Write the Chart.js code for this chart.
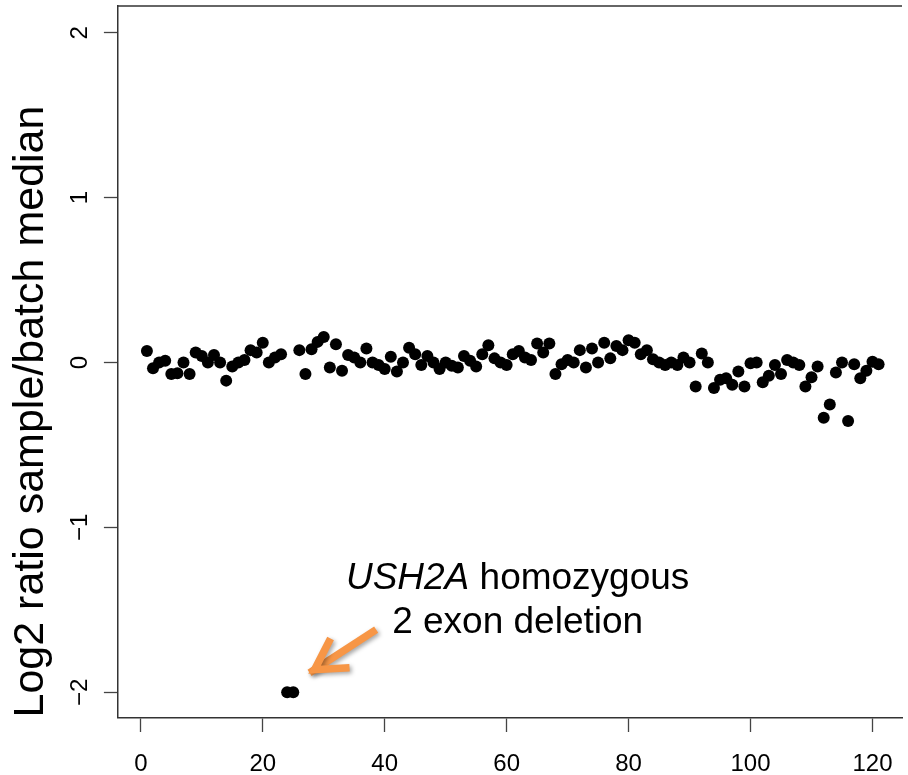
<!DOCTYPE html>
<html lang="en">
<head>
  <meta charset="UTF-8">
  <title>USH2A log2 ratio</title>
  <script src="https://cdn.jsdelivr.net/npm/chart.js@4.4.1/dist/chart.umd.min.js"></script>
  <style>
* {
  margin: 0;
  padding: 0;
}
body {
  background: #fff;
  overflow: hidden;
}
  </style>
</head>
<body>
  <canvas id="myChart" width="908" height="775"></canvas>
  <script>
    // log2 ratio for exons 1..121
    const ratios = [
      0.07, -0.035, 0.0, 0.01, -0.07, -0.065, 0.0, -0.07, 0.06, 0.04,
      0.0, 0.045, 0.0, -0.11, -0.025, 0.0, 0.015, 0.075, 0.06, 0.12,
      0.0, 0.03, 0.05, -2.0, -2.0, 0.075, -0.07, 0.08, 0.125, 0.155,
      -0.03, 0.11, -0.05, 0.045, 0.03, 0.0, 0.085, 0.0, -0.015, -0.04,
      0.035, -0.055, 0.0, 0.09, 0.05, -0.015, 0.04, 0.0, -0.04, 0.0,
      -0.02, -0.03, 0.04, 0.01, -0.025, 0.05, 0.105, 0.025, 0.0, -0.015,
      0.05, 0.07, 0.03, 0.015, 0.115, 0.06, 0.115, -0.07, -0.01, 0.015,
      0.0, 0.075, -0.03, 0.085, 0.0, 0.12, 0.025, 0.1, 0.075, 0.135,
      0.12, 0.05, 0.075, 0.02, 0.0, -0.015, 0.0, -0.015, 0.03, 0.0,
      -0.145, 0.055, 0.0, -0.155, -0.105, -0.095, -0.135, -0.055, -0.145, -0.005,
      0.0, -0.12, -0.08, -0.015, -0.07, 0.015, 0.0, -0.015, -0.145, -0.09,
      -0.025, -0.335, -0.255, -0.06, 0.0, -0.355, -0.01, -0.095, -0.05, 0.005,
      -0.01
    ];
    const xTicks = [0, 20, 40, 60, 80, 100, 120];
    const yTicks = [-2, -1, 0, 1, 2];
    const yTitle = 'Log2 ratio sample/batch median';
    const noteGene = 'USH2A';
    const noteLine1 = ' homozygous';
    const noteLine2 = '2 exon deletion';

    const points = ratios.map((v, i) => ({x: i + 1, y: v}));
    const FONT = '"Liberation Sans", Arial, Helvetica, sans-serif';
    const axisColor = '#333';

    // top frame line, rotated y labels, annotation + arrow
    const extras = {
      id: 'extras',
      afterDraw(chart) {
        const c = chart.ctx;
        const area = chart.chartArea;
        const xs = chart.scales.x;
        const ys = chart.scales.y;
        c.save();
        c.strokeStyle = axisColor;
        c.lineWidth = 1.5;
        c.beginPath();
        c.moveTo(area.left, area.top);
        c.lineTo(area.right, area.top);
        c.stroke();

        c.fillStyle = '#000';
        c.font = '24px ' + FONT;
        c.textAlign = 'center';
        c.textBaseline = 'alphabetic';
        yTicks.forEach(t => {
          c.save();
          c.translate(86.5, ys.getPixelForValue(t));
          c.rotate(-Math.PI / 2);
          c.fillText(String(t).replace('-', '\u2212'), 0, 0);
          c.restore();
        });

        // annotation text
        const cx = xs.getPixelForValue(61.8);
        c.textAlign = 'left';
        c.font = 'italic 37px ' + FONT;
        const w1 = c.measureText(noteGene).width;
        c.font = '37px ' + FONT;
        const w2 = c.measureText(noteLine1).width;
        const b1 = ys.getPixelForValue(-1.375);
        let sx = cx - (w1 + w2) / 2;
        c.font = 'italic 37px ' + FONT;
        c.fillText(noteGene, sx, b1);
        c.font = '37px ' + FONT;
        c.fillText(noteLine1, sx + w1, b1);
        c.textAlign = 'center';
        c.fillText(noteLine2, cx, ys.getPixelForValue(-1.641));

        // orange arrow
        const x0 = xs.getPixelForValue(38.6), y0 = ys.getPixelForValue(-1.62);
        const x1 = xs.getPixelForValue(28.5), y1 = ys.getPixelForValue(-1.863);
        c.shadowColor = 'rgba(0,0,0,0.35)';
        c.shadowBlur = 4;
        c.shadowOffsetX = 2;
        c.shadowOffsetY = 2;
        c.strokeStyle = '#F79646';
        c.lineWidth = 7.5;
        c.lineCap = 'butt';
        c.lineJoin = 'miter';
        const ang = Math.atan2(y1 - y0, x1 - x0);
        c.beginPath();
        c.moveTo(x0, y0);
        c.lineTo(x1 + 6 * Math.cos(ang), y1 + 6 * Math.sin(ang));
        c.stroke();
        const hl = 35, spread = 0.52;
        c.beginPath();
        c.moveTo(x1 - hl * Math.cos(ang - spread), y1 - hl * Math.sin(ang - spread));
        c.lineTo(x1, y1);
        c.lineTo(x1 - hl * Math.cos(ang + spread), y1 - hl * Math.sin(ang + spread));
        c.stroke();
        c.restore();
      }
    };

    const ctx = document.getElementById('myChart').getContext('2d');
    const myChart = new Chart(ctx, {
      type: 'scatter',
      data: {
        datasets: [{
          data: points,
          backgroundColor: '#000',
          borderWidth: 0,
          pointRadius: 6,
          pointHoverRadius: 6
        }]
      },
      options: {
        responsive: false,
        animation: false,
        events: [],
        layout: {padding: {top: 5, left: 0, right: 0, bottom: 0}},
        plugins: {
          legend: {display: false},
          tooltip: {enabled: false}
        },
        scales: {
          x: {
            type: 'linear',
            min: -3.857,
            max: 124.84,
            afterBuildTicks: s => { s.ticks = xTicks.map(v => ({value: v})); },
            afterFit: s => { s.height = 57.5; s.paddingLeft = 0; s.paddingRight = 0; },
            ticks: {
              color: '#000',
              padding: 18,
              maxRotation: 0,
              font: {family: FONT, size: 24}
            },
            grid: {
              drawOnChartArea: false,
              tickLength: 14.5,
              tickColor: '#444',
              tickWidth: 1.3
            },
            border: {color: axisColor, width: 1.5}
          },
          y: {
            type: 'linear',
            min: -2.153,
            max: 2.162,
            afterBuildTicks: s => { s.ticks = yTicks.map(v => ({value: v})); },
            afterFit: s => { s.width = 117.3; s.paddingTop = 0; s.paddingBottom = 0; },
            ticks: {display: false},
            grid: {
              drawOnChartArea: false,
              tickLength: 13.4,
              tickColor: '#444',
              tickWidth: 1.3
            },
            border: {color: axisColor, width: 1.5},
            title: {
              display: true,
              text: yTitle,
              color: '#000',
              align: 'start',
              padding: {top: 5, bottom: 0},
              font: {family: FONT, size: 43, lineHeight: 1.2}
            }
          }
        }
      },
      plugins: [extras]
    });
  </script>
</body>
</html>
